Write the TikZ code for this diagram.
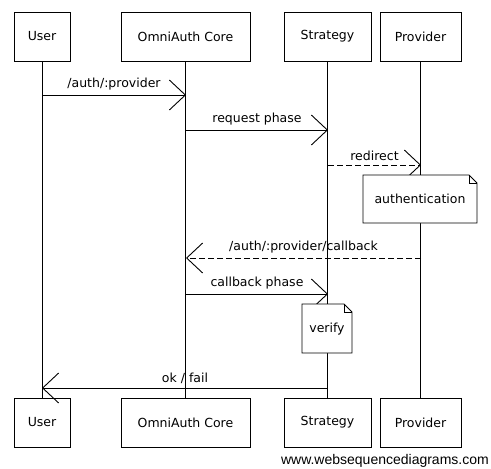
\documentclass[tikz,border=0pt]{standalone}
\usepackage{fontspec}
\setmainfont{DejaVu Sans}
\newfontfamily\wmfont{Liberation Sans}
\usetikzlibrary{arrows.meta}
\tikzset{
  actor/.style={draw, line width=0.8pt, minimum height=49pt, inner sep=0pt, font=\fontsize{12.5}{14}\selectfont},
  life/.style={line width=0.8pt},
  msg/.style={line width=0.9pt, -{Straight Barb[length=16pt, width=30pt, line width=0.9pt]}},
  reply/.style={msg, dash pattern=on 6pt off 3pt},
  lbl/.style={font=\fontsize{12.5}{14}\selectfont, inner sep=1pt},
  notebox/.style={line width=0.8pt, fill=white},
}
\begin{document}
\begin{tikzpicture}[x=1pt,y=-1pt]
\useasboundingbox (0,0) rectangle (491,469);
% top actors
\node[actor, minimum width=56pt]  (uT) at (42,36.5)    {User};
\node[actor, minimum width=129pt] (oT) at (185.5,36.5) {OmniAuth Core};
\node[actor, minimum width=87pt]  (sT) at (327.5,36.5) {Strategy};
\node[actor, minimum width=81pt]  (pT) at (420.5,36.5) {Provider};
% bottom actors
\node[actor, minimum width=56pt]  (uB) at (42,422.5)    {User};
\node[actor, minimum width=129pt] (oB) at (185.5,422.5) {OmniAuth Core};
\node[actor, minimum width=87pt]  (sB) at (327.5,422.5) {Strategy};
\node[actor, minimum width=81pt]  (pB) at (420.5,422.5) {Provider};
% lifelines
\draw[life] (uT.south) -- (uB.north);
\draw[life] (oT.south) -- (oB.north);
\draw[life] (sT.south) -- (sB.north);
\draw[life] (pT.south) -- (pB.north);
% message anchor points
\coordinate (m1a) at (42,95);    \coordinate (m1b) at (186,95);
\coordinate (m2a) at (186,130);  \coordinate (m2b) at (328,130);
\coordinate (m3a) at (328,165);  \coordinate (m3b) at (421,165);
\coordinate (m4a) at (421,258);  \coordinate (m4b) at (186,258);
\coordinate (m5a) at (186,294);  \coordinate (m5b) at (328,294);
\coordinate (m6a) at (328,388);  \coordinate (m6b) at (42,388);
% messages
\draw[msg]   (m1a) -- node[lbl, above=3pt] {/auth/:provider} (m1b);
\draw[msg]   (m2a) -- node[lbl, above=3pt] {request phase} (m2b);
\draw[reply] (m3a) -- node[lbl, above=3pt] {redirect} (m3b);
\draw[reply] (m4a) -- node[lbl, above=3pt] {/auth/:provider/callback} (m4b);
\draw[msg]   (m5a) -- node[lbl, above=3pt] {callback phase} (m5b);
\draw[msg]   (m6a) -- node[lbl, above=3pt] {ok / fail} (m6b);
% notes
\draw[notebox] (363,175) -- (469,175) -- (477,183) -- (477,223) -- (363,223) -- cycle;
\draw[line width=0.8pt] (469,175) -- (469,183) -- (477,183);
\node[lbl] (nAuth) at (420,199) {authentication};
\draw[notebox] (302,304) -- (344,304) -- (352,312) -- (352,353) -- (302,353) -- cycle;
\draw[line width=0.8pt] (344,304) -- (344,312) -- (352,312);
\node[lbl] (nVer) at (327,329) {verify};
% watermark
\node[anchor=east, inner sep=0pt, font=\wmfont\fontsize{14}{16}\selectfont] (wm) at (489,461) {www.websequencediagrams.com};
\end{tikzpicture}
\end{document}
